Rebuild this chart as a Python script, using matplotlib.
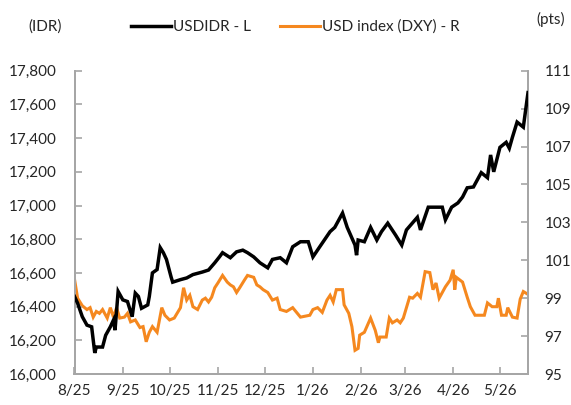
import matplotlib
matplotlib.use("Agg")
import matplotlib.pyplot as plt
import matplotlib.dates as mdates
from matplotlib.ticker import FuncFormatter
import pandas as pd

# ---------------- data ----------------
idr_dates = ["2025-08-01", "2025-08-03", "2025-08-06", "2025-08-09", "2025-08-12", "2025-08-14",
             "2025-08-15", "2025-08-19", "2025-08-21", "2025-08-24", "2025-08-26", "2025-08-27",
             "2025-08-29", "2025-09-01", "2025-09-04", "2025-09-07", "2025-09-09", "2025-09-11",
             "2025-09-13", "2025-09-17", "2025-09-18", "2025-09-20", "2025-09-23", "2025-09-25",
             "2025-09-27", "2025-09-29", "2025-10-02", "2025-10-03", "2025-10-08", "2025-10-12",
             "2025-10-16", "2025-10-22", "2025-10-26", "2025-10-30", "2025-11-02", "2025-11-04",
             "2025-11-09", "2025-11-13", "2025-11-17", "2025-11-20", "2025-11-24", "2025-11-28",
             "2025-12-03", "2025-12-06", "2025-12-11", "2025-12-15", "2025-12-19", "2025-12-24",
             "2025-12-29", "2026-01-01", "2026-01-05", "2026-01-12", "2026-01-15", "2026-01-20",
             "2026-01-23", "2026-01-28", "2026-01-29", "2026-01-30", "2026-02-03", "2026-02-07",
             "2026-02-11", "2026-02-14", "2026-02-18", "2026-02-23", "2026-02-27", "2026-03-02",
             "2026-03-09", "2026-03-11", "2026-03-16", "2026-03-25", "2026-03-27", "2026-03-31",
             "2026-04-04", "2026-04-07", "2026-04-10", "2026-04-14", "2026-04-19", "2026-04-23",
             "2026-04-25", "2026-04-27", "2026-05-01", "2026-05-05", "2026-05-07", "2026-05-09",
             "2026-05-12", "2026-05-16", "2026-05-19"]
usdidr = [16460, 16420, 16340, 16290, 16280, 16125,
          16160, 16160, 16230, 16280, 16320, 16260,
          16490, 16440, 16430, 16340, 16480, 16460,
          16390, 16410, 16460, 16600, 16620, 16750,
          16720, 16680, 16575, 16545, 16560, 16570,
          16590, 16605, 16617, 16660, 16695, 16720,
          16690, 16725, 16735, 16720, 16695, 16660,
          16630, 16680, 16690, 16660, 16755, 16785,
          16785, 16695, 16750, 16845, 16870, 16955,
          16870, 16765, 16705, 16795, 16785, 16870,
          16795, 16845, 16895, 16825, 16765, 16855,
          16930, 16855, 16990, 16990, 16915, 16990,
          17015, 17050, 17105, 17110, 17195, 17165,
          17300, 17200, 17345, 17375, 17340, 17405,
          17495, 17465, 17670]

dxy_dates = ["2025-08-01", "2025-08-03", "2025-08-06", "2025-08-09", "2025-08-11", "2025-08-13",
             "2025-08-15", "2025-08-17", "2025-08-19", "2025-08-22", "2025-08-24", "2025-08-26",
             "2025-08-28", "2025-08-30", "2025-09-02", "2025-09-04", "2025-09-06", "2025-09-09",
             "2025-09-12", "2025-09-14", "2025-09-16", "2025-09-18", "2025-09-20", "2025-09-23",
             "2025-09-26", "2025-09-28", "2025-10-01", "2025-10-04", "2025-10-08", "2025-10-10",
             "2025-10-12", "2025-10-14", "2025-10-16", "2025-10-19", "2025-10-22", "2025-10-24",
             "2025-10-26", "2025-10-28", "2025-10-30", "2025-11-01", "2025-11-04", "2025-11-07",
             "2025-11-09", "2025-11-11", "2025-11-13", "2025-11-15", "2025-11-18", "2025-11-20",
             "2025-11-24", "2025-11-26", "2025-11-28", "2025-11-30", "2025-12-03", "2025-12-06",
             "2025-12-09", "2025-12-11", "2025-12-15", "2025-12-19", "2025-12-24", "2025-12-30",
             "2026-01-01", "2026-01-04", "2026-01-07", "2026-01-10", "2026-01-12", "2026-01-14",
             "2026-01-16", "2026-01-20", "2026-01-21", "2026-01-24", "2026-01-26", "2026-01-28",
             "2026-01-30", "2026-01-31", "2026-02-03", "2026-02-07", "2026-02-10", "2026-02-12",
             "2026-02-13", "2026-02-17", "2026-02-19", "2026-02-21", "2026-02-24", "2026-02-26",
             "2026-02-28", "2026-03-02", "2026-03-04", "2026-03-06", "2026-03-09", "2026-03-11",
             "2026-03-14", "2026-03-17", "2026-03-19", "2026-03-21", "2026-03-23", "2026-03-27",
             "2026-03-30", "2026-04-01", "2026-04-02", "2026-04-03", "2026-04-07", "2026-04-10",
             "2026-04-12", "2026-04-15", "2026-04-18", "2026-04-21", "2026-04-23", "2026-04-26",
             "2026-04-29", "2026-04-30", "2026-05-02", "2026-05-05", "2026-05-06", "2026-05-09",
             "2026-05-12", "2026-05-14", "2026-05-16", "2026-05-19"]
dxy = [100.0, 99.0, 98.6, 98.4, 98.5, 98.0,
       98.3, 98.2, 98.4, 97.95, 98.5, 98.0,
       98.5, 97.95, 98.0, 98.2, 97.75, 97.85,
       97.45, 97.5, 96.7, 97.2, 97.5, 97.2,
       98.5, 98.1, 97.85, 97.95, 98.5, 99.55,
       98.9, 99.15, 98.55, 98.4, 98.9, 99.0,
       98.8, 99.05, 99.55, 99.8, 100.2, 99.85,
       99.7, 99.6, 99.3, 99.55, 99.95, 100.2,
       100.1, 99.7, 99.6, 99.45, 99.3, 98.9,
       99.0, 98.4, 98.3, 98.5, 98.0, 98.1,
       98.4, 98.5, 98.25, 98.9, 99.15, 98.8,
       99.45, 99.45, 98.65, 98.2, 97.5, 96.25,
       96.35, 97.05, 97.2, 97.95, 97.3, 96.65,
       96.95, 96.95, 97.95, 97.7, 97.85, 97.7,
       97.95, 98.5, 99.05, 99.0, 99.25, 99.05,
       100.4, 100.35, 99.45, 99.8, 99.0, 99.6,
       99.95, 100.5, 99.45, 100.1, 99.85, 99.05,
       98.55, 98.1, 98.1, 98.1, 98.75, 98.55,
       98.55, 99.0, 98.1, 98.1, 98.5, 98.0,
       97.95, 98.95, 99.35, 99.2]

x_start, x_end = "2025-08-01", "2026-05-19"
idr_ticks = list(range(16000, 17801, 200))
dxy_ticks = list(range(95, 112, 2))

# ---------------- style ----------------
plt.rcParams['font.family'] = ['Lato', 'DejaVu Sans']
TXT = '#262626'
GRID = '#A6A6A6'
ORANGE = '#F5881F'
FS = 11

fig = plt.figure(figsize=(5.71, 4.05), dpi=100)
ax = fig.add_axes([74.5 / 571, 1 - 374 / 405, (528 - 74.5) / 571, (374 - 70.7) / 405])
ax2 = ax.twinx()

d_idr = pd.to_datetime(idr_dates)
d_dxy = pd.to_datetime(dxy_dates)

l1, = ax.plot(d_idr, usdidr, color='black', lw=2.5, solid_joinstyle='miter', zorder=3,
              label='USDIDR - L')
l2, = ax2.plot(d_dxy, dxy, color=ORANGE, lw=2.2, solid_joinstyle='miter', zorder=2,
               label='USD index (DXY) - R')
ax.set_zorder(ax2.get_zorder() + 1)
ax.patch.set_visible(False)

ax.set_xlim(pd.Timestamp(x_start), pd.Timestamp(x_end))
ax.set_ylim(idr_ticks[0], idr_ticks[-1])
ax2.set_ylim(dxy_ticks[0], dxy_ticks[-1])
ax.set_yticks(idr_ticks)
ax2.set_yticks(dxy_ticks)
ax.yaxis.set_major_formatter(FuncFormatter(lambda v, p: f"{int(v):,}"))

ax.xaxis.set_major_locator(mdates.MonthLocator())
ax.xaxis.set_major_formatter(FuncFormatter(
    lambda v, p: f"{mdates.num2date(v).month}/{mdates.num2date(v):%y}"))

for a in (ax, ax2):
    for s in a.spines.values():
        s.set_color(GRID)
        s.set_linewidth(1.3)
    a.spines['top'].set_visible(False)
    a.tick_params(direction='in', length=5, width=1.2, color=GRID,
                  labelsize=FS, labelcolor=TXT)
ax.tick_params(axis='y', pad=13)
ax2.tick_params(axis='y', pad=12)
ax.tick_params(axis='x', pad=7)

fig.text(45 / 571, 1 - 27 / 405, "(IDR)", ha='center', va='center', fontsize=FS, color=TXT)
fig.text(551 / 571, 1 - 19 / 405, "(pts)", ha='center', va='center', fontsize=FS, color=TXT)

leg = fig.legend(handles=[l1, l2], loc='center left',
                 bbox_to_anchor=(131 / 571, 1 - 27 / 405), ncol=2, frameon=False,
                 fontsize=FS, handlelength=2.6, handletextpad=0.15, columnspacing=1.9,
                 borderpad=0, borderaxespad=0)
for t in leg.get_texts():
    t.set_color(TXT)

fig.savefig("out.png", dpi=100)
